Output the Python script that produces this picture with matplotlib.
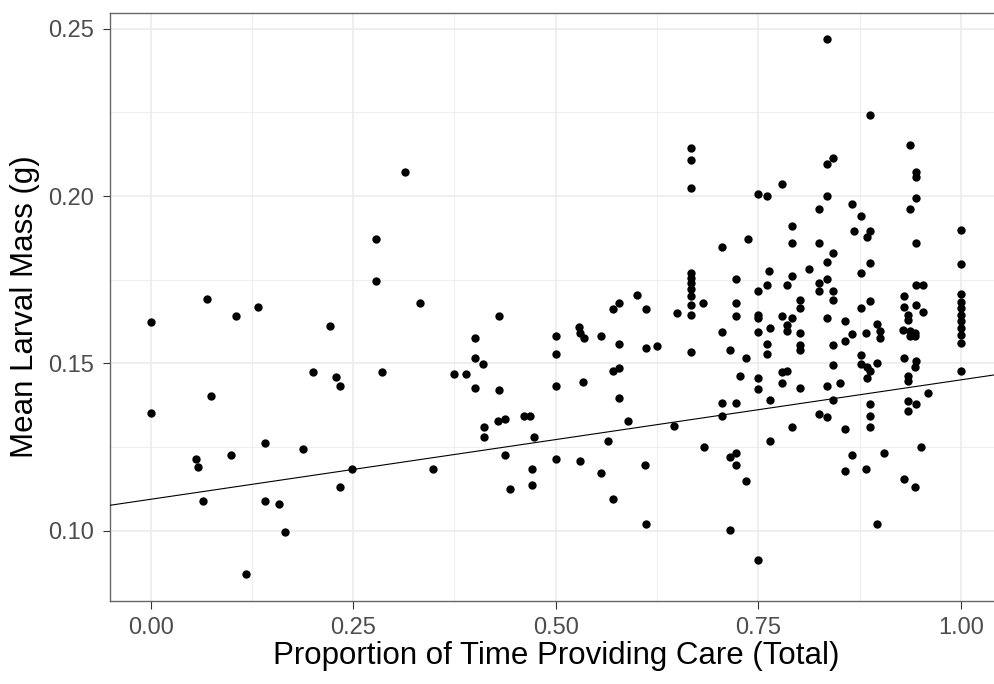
import numpy as np
import matplotlib
matplotlib.use("Agg")
import matplotlib.pyplot as plt
from matplotlib.ticker import MultipleLocator, FormatStrFormatter

plt.rcParams['font.family'] = ['Liberation Sans', 'DejaVu Sans']

# proportion of time providing care vs mean larval mass, split by care level
low_care_x = [0.0, 0.0, 0.056, 0.058, 0.065, 0.070, 0.075, 0.099, 0.105, 0.118,
              0.132, 0.141, 0.141, 0.158, 0.166, 0.188, 0.200, 0.222, 0.229, 0.234,
              0.234, 0.249, 0.278, 0.278, 0.286, 0.314, 0.332, 0.349, 0.375, 0.389,
              0.400, 0.400, 0.400, 0.410, 0.412, 0.412, 0.429, 0.430, 0.430, 0.437,
              0.437, 0.444, 0.461, 0.468, 0.471, 0.471, 0.473]
low_care_y = [0.1351, 0.1623, 0.1214, 0.1191, 0.1090, 0.1693, 0.1403, 0.1226, 0.1641, 0.0871,
              0.1670, 0.1262, 0.1090, 0.1080, 0.0996, 0.1244, 0.1474, 0.1611, 0.1458, 0.1433,
              0.1131, 0.1184, 0.1872, 0.1747, 0.1474, 0.2071, 0.1680, 0.1184, 0.1469, 0.1469,
              0.1576, 0.1516, 0.1426, 0.1498, 0.1311, 0.1279, 0.1327, 0.1641, 0.1421, 0.1334,
              0.1226, 0.1125, 0.1344, 0.1344, 0.1184, 0.1137, 0.1279]

mid_care_x = [0.500, 0.500, 0.500, 0.500, 0.529, 0.530, 0.530, 0.534, 0.535, 0.556,
              0.556, 0.564, 0.570, 0.570, 0.571, 0.578, 0.578, 0.578, 0.578, 0.589,
              0.600, 0.610, 0.611, 0.611, 0.611, 0.625, 0.646, 0.649, 0.667, 0.667,
              0.667, 0.667, 0.667, 0.667, 0.667, 0.667, 0.667, 0.667, 0.667, 0.681,
              0.683, 0.705, 0.705, 0.705, 0.705, 0.715, 0.715, 0.715, 0.722, 0.722,
              0.722, 0.722, 0.722, 0.722, 0.727, 0.735, 0.735, 0.737, 0.749, 0.749,
              0.749, 0.749, 0.749, 0.749, 0.749, 0.749]
mid_care_y = [0.1583, 0.1529, 0.1433, 0.1214, 0.1608, 0.1591, 0.1207, 0.1444, 0.1576, 0.1583,
              0.1172, 0.1267, 0.1663, 0.1478, 0.1096, 0.1682, 0.1558, 0.1486, 0.1396, 0.1327,
              0.1705, 0.1196, 0.1663, 0.1546, 0.1020, 0.1551, 0.1314, 0.1652, 0.2143, 0.2108,
              0.2025, 0.1770, 0.1755, 0.1740, 0.1723, 0.1700, 0.1675, 0.1645, 0.1534, 0.1682,
              0.1251, 0.1847, 0.1593, 0.1382, 0.1344, 0.1539, 0.1221, 0.1002, 0.1753, 0.1682,
              0.1641, 0.1382, 0.1231, 0.1196, 0.1463, 0.1516, 0.1149, 0.1872, 0.2007, 0.1717,
              0.1645, 0.1636, 0.1593, 0.1456, 0.1423, 0.0913]

# one line per care value
high_care_x = ([0.761] * 4 + [0.763] + [0.764] * 3 + [0.779] * 4 + [0.785] * 4
               + [0.791] * 5 + [0.801] * 6 + [0.813] + [0.825] * 5 + [0.835] * 8
               + [0.842] * 7 + [0.851] + [0.857] * 4 + [0.866] * 3 + [0.868]
               + [0.876] * 5 + [0.883] * 2 + [0.884] * 3 + [0.888] * 8 + [0.896] * 3
               + [0.900] * 2 + [0.905] + [0.929] + [0.930] * 4 + [0.934] * 6
               + [0.9375] * 4 + [0.943] * 4 + [0.944] * 8 + [0.951] + [0.953] * 2
               + [0.959] + [1.0] * 11)
high_care_y = [0.2001, 0.1735, 0.1558, 0.1528,
               0.1777,
               0.1606, 0.1391, 0.1267,
               0.2036, 0.1641, 0.1474, 0.1441,
               0.1735, 0.1616, 0.1598, 0.1478,
               0.1912, 0.1860, 0.1760, 0.1636, 0.1309,
               0.1690, 0.1667, 0.1591, 0.1556, 0.1541, 0.1426,
               0.1783,
               0.1962, 0.1860, 0.1740, 0.1717, 0.1348,
               0.2468, 0.2095, 0.2001, 0.1803, 0.1753, 0.1636, 0.1434, 0.1339,
               0.2114, 0.1830, 0.1715, 0.1690, 0.1554, 0.1494, 0.1391,
               0.1441,
               0.1627, 0.1568, 0.1304, 0.1179,
               0.1977, 0.1588, 0.1226,
               0.1896,
               0.1942, 0.1770, 0.1665, 0.1526, 0.1498,
               0.1591, 0.1184,
               0.1877, 0.1488, 0.1456,
               0.2243, 0.1895, 0.1800, 0.1687, 0.1476, 0.1379, 0.1344, 0.1309,
               0.1618, 0.1501, 0.1020,
               0.1598, 0.1576,
               0.1231,
               0.1600,
               0.1700, 0.1670, 0.1516, 0.1154,
               0.1645, 0.1630, 0.1461, 0.1446, 0.1387, 0.1357,
               0.2154, 0.1962, 0.1598, 0.1581,
               0.1591, 0.1581, 0.1488, 0.1131,
               0.2072, 0.2057, 0.1995, 0.1860, 0.1735, 0.1675, 0.1506, 0.1379,
               0.1251,
               0.1735, 0.1653,
               0.1411,
               0.1899, 0.1797, 0.1707, 0.1685, 0.1665, 0.1645, 0.1626, 0.1606,
               0.1586, 0.1561, 0.1476]

# fitted line
fit_intercept = 0.1094
fit_slope = 0.0357

x_ticks = [0.00, 0.25, 0.50, 0.75, 1.00]
y_ticks = [0.10, 0.15, 0.20, 0.25]

care = np.array(low_care_x + mid_care_x + high_care_x)
mass = np.array(low_care_y + mid_care_y + high_care_y)

fig = plt.figure(figsize=(9.95, 6.84), dpi=100)
ax = fig.add_axes([0.1106, 0.1218, 0.896, 0.8596])

ax.scatter(care, mass, s=36, color='black', linewidths=0, zorder=3)

xlim = (-0.05, 1.05)
xs = np.array(xlim)
ax.plot(xs, fit_intercept + fit_slope * xs, color='black', lw=0.8, zorder=4)

ax.set_xlim(*xlim)
ax.set_ylim(0.0791, 0.2548)

ax.set_xticks(x_ticks)
ax.set_yticks(y_ticks)
ax.xaxis.set_major_formatter(FormatStrFormatter('%.2f'))
ax.yaxis.set_major_formatter(FormatStrFormatter('%.2f'))
ax.xaxis.set_minor_locator(MultipleLocator(0.125))
ax.yaxis.set_minor_locator(MultipleLocator(0.025))

ax.grid(which='major', color='#EBEBEB', lw=1.1, zorder=0)
ax.grid(which='minor', color='#EBEBEB', lw=0.55, zorder=0)
ax.set_axisbelow(True)

for sp in ax.spines.values():
    sp.set_color('#666666')
    sp.set_linewidth(1.0)

ax.tick_params(which='major', length=5.4, width=0.8, color='#333333',
               labelsize=17, labelcolor='#4D4D4D', pad=6)
ax.tick_params(which='minor', length=0)

ax.set_xlabel('Proportion of Time Providing Care (Total)', fontsize=22.5, labelpad=2)
ax.set_ylabel('Mean Larval Mass (g)', fontsize=22.5, labelpad=6)

fig.savefig('out.png', dpi=100)
